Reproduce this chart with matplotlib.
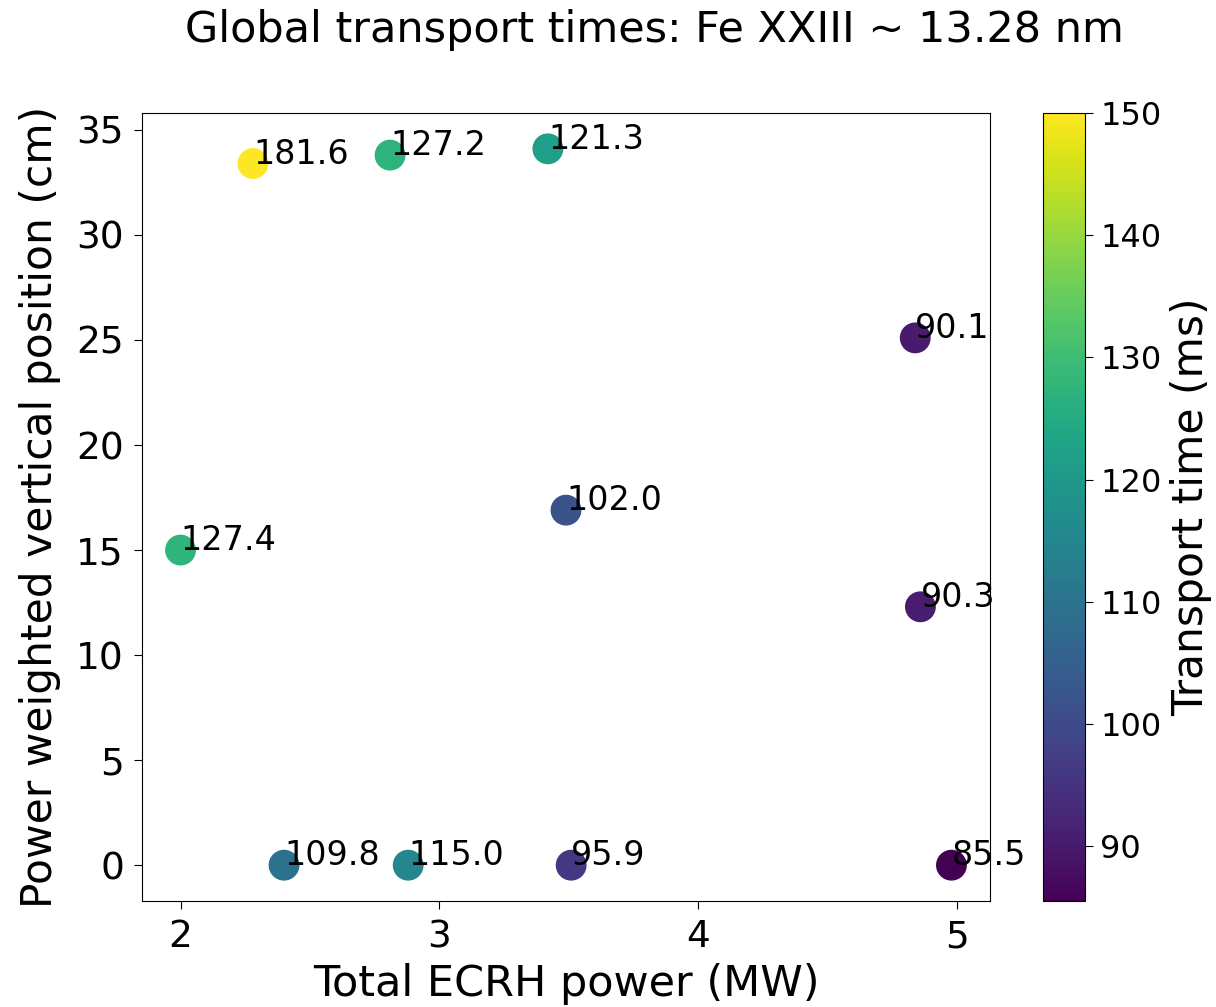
import numpy as np
import matplotlib
matplotlib.use('Agg')
import matplotlib.pyplot as plt
from matplotlib.colors import Normalize

# ECRH scan: total power (MW), power weighted vertical position (cm), transport time (ms)
ecrh_power = [2.28, 2.81, 3.42, 4.84, 2.00, 3.49, 4.86, 2.40, 2.88, 3.51, 4.98]
vert_position = [33.4, 33.8, 34.1, 25.1, 15.0, 16.9, 12.3, 0.0, 0.0, 0.0, 0.0]
transport_time = [181.6, 127.2, 121.3, 90.1, 127.4, 102.0, 90.3, 109.8, 115.0, 95.9, 85.5]

cbar_ticks = [90, 100, 110, 120, 130, 140, 150]
t_max = 150

fig = plt.figure(figsize=(12.16, 10.07), dpi=100)
ax = fig.add_axes([142 / 1216, 106 / 1007, 848 / 1216, 788 / 1007])
cax = fig.add_axes([1043 / 1216, 106 / 1007, 42 / 1216, 788 / 1007])

norm = Normalize(vmin=min(transport_time), vmax=t_max)
sc = ax.scatter(ecrh_power, vert_position, c=transport_time, cmap='viridis', norm=norm, s=450)

for x, y, t in zip(ecrh_power, vert_position, transport_time):
    ax.text(x, y, f'{t:.1f}', fontsize=24)

ax.set_xticks([2, 3, 4, 5])
ax.set_yticks([0, 5, 10, 15, 20, 25, 30, 35])
ax.tick_params(labelsize=27, length=6, pad=7)
ax.set_xlabel('Total ECRH power (MW)', fontsize=31, labelpad=6)
ax.set_ylabel('Power weighted vertical position (cm)', fontsize=30.5, labelpad=11)

cb = fig.colorbar(sc, cax=cax, ticks=cbar_ticks)
cb.ax.tick_params(labelsize=23, length=6, pad=5)
cb.set_label('Transport time (ms)', fontsize=30.5, labelpad=6)

fig.text(654 / 1216, 1 - 30 / 1007, 'Global transport times: Fe XXIII ~ 13.28 nm',
         ha='center', va='center', fontsize=31)

fig.savefig('out.png', dpi=100)
